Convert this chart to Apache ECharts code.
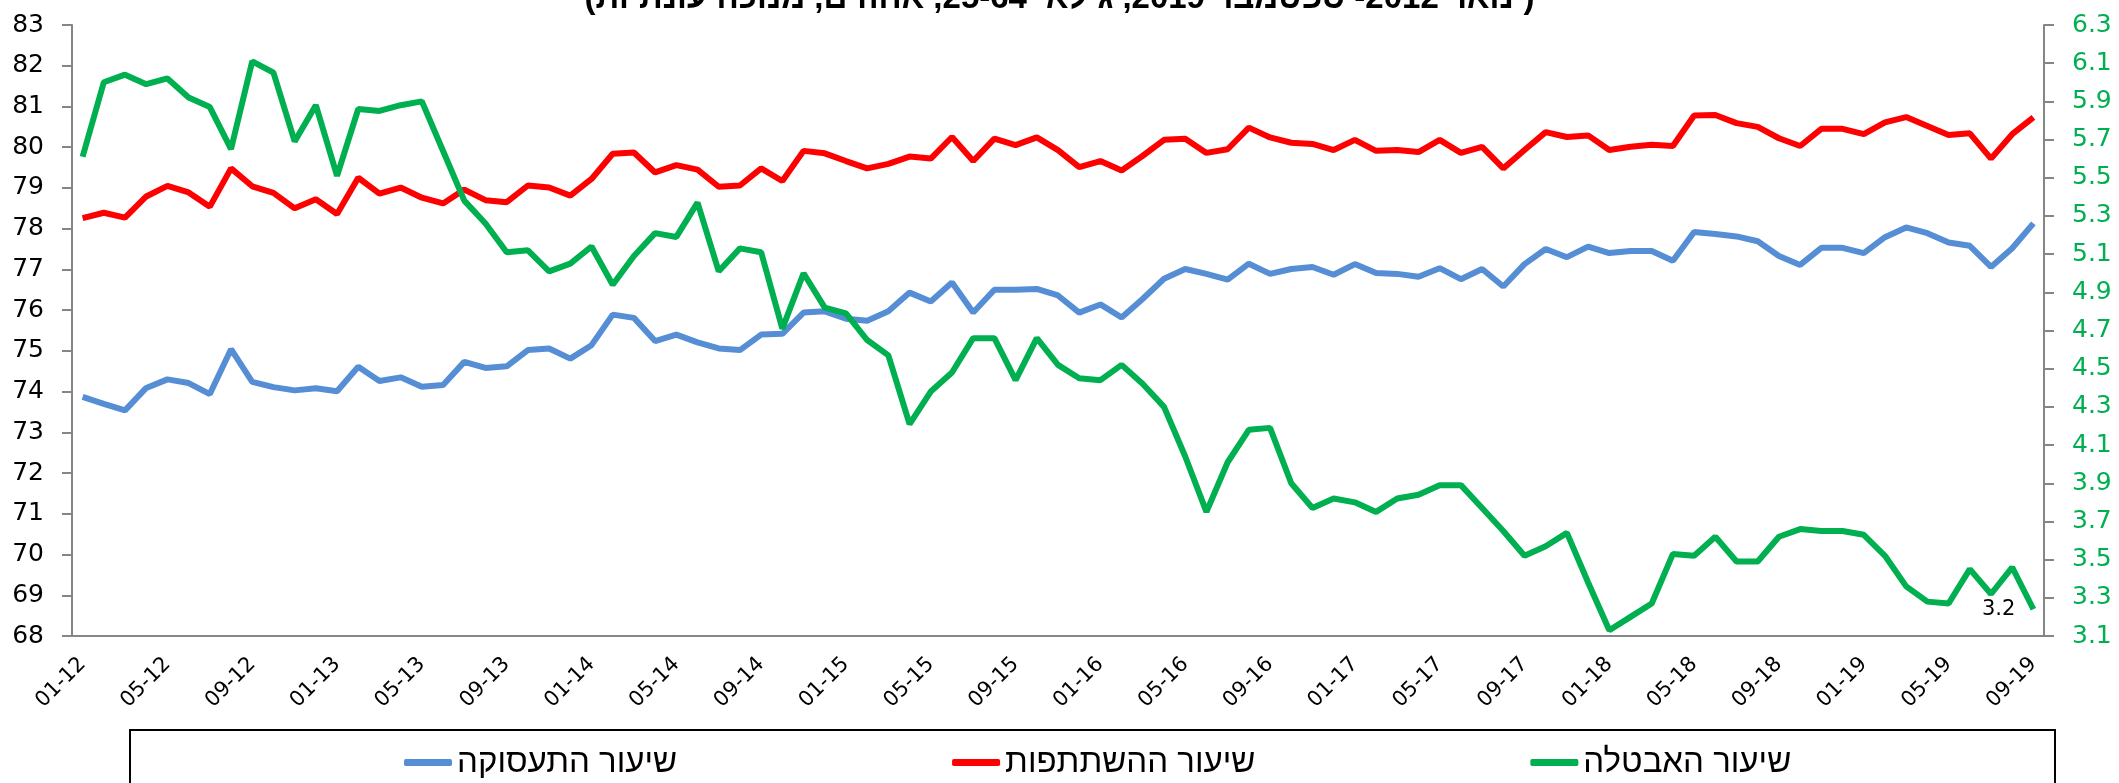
<!DOCTYPE html>
<html>
<head>
    <meta charset="utf-8">
    <title>שיעורי תעסוקה, השתתפות ואבטלה</title>
    <script src="https://cdn.jsdelivr.net/npm/echarts@6/dist/echarts.min.js"></script>
    <style>
        html, body { margin: 0; padding: 0; background: #fff; }
    </style>
</head>
<body>
    <div id="chart" style="width: 2119px;height:783px;"></div>

    <script>
        // חודשים 01-12 עד 09-19
        const months = [
            '01-12','02-12','03-12','04-12','05-12','06-12','07-12','08-12','09-12','10-12','11-12','12-12',
            '01-13','02-13','03-13','04-13','05-13','06-13','07-13','08-13','09-13','10-13','11-13','12-13',
            '01-14','02-14','03-14','04-14','05-14','06-14','07-14','08-14','09-14','10-14','11-14','12-14',
            '01-15','02-15','03-15','04-15','05-15','06-15','07-15','08-15','09-15','10-15','11-15','12-15',
            '01-16','02-16','03-16','04-16','05-16','06-16','07-16','08-16','09-16','10-16','11-16','12-16',
            '01-17','02-17','03-17','04-17','05-17','06-17','07-17','08-17','09-17','10-17','11-17','12-17',
            '01-18','02-18','03-18','04-18','05-18','06-18','07-18','08-18','09-18','10-18','11-18','12-18',
            '01-19','02-19','03-19','04-19','05-19','06-19','07-19','08-19','09-19'
        ];

        // שיעור התעסוקה (ציר שמאלי)
        const employment = [
            73.87, 73.70, 73.54, 74.09, 74.30, 74.21, 73.94, 75.04, 74.24, 74.11, 74.03, 74.08, 74.01, 74.61, 74.26, 74.35, 74.12, 74.16, 74.73,
            74.58, 74.62, 75.02, 75.06, 74.81, 75.14, 75.89, 75.81, 75.24, 75.40, 75.21, 75.06, 75.02, 75.40, 75.42, 75.94, 75.97, 75.79, 75.74,
            75.97, 76.43, 76.21, 76.68, 75.94, 76.50, 76.50, 76.52, 76.36, 75.94, 76.14, 75.82, 76.28, 76.77, 77.01, 76.89, 76.75, 77.14, 76.89, 77.01,
            77.06, 76.87, 77.13, 76.91, 76.89, 76.82, 77.03, 76.76, 77.01, 76.58, 77.13, 77.50, 77.30, 77.56, 77.40, 77.45, 77.45, 77.21, 77.92,
            77.87, 77.81, 77.69, 77.33, 77.11, 77.53, 77.53, 77.40, 77.79, 78.03, 77.89, 77.66, 77.58, 77.06, 77.52, 78.13
        ];

        // שיעור ההשתתפות (ציר שמאלי)
        const participation = [
            78.26, 78.39, 78.27, 78.79, 79.05, 78.89, 78.54, 79.48, 79.04, 78.88, 78.50, 78.72, 78.36, 79.25, 78.86, 79.01, 78.76, 78.62, 78.96,
            78.70, 78.65, 79.06, 79.01, 78.81, 79.22, 79.84, 79.87, 79.38, 79.56, 79.45, 79.03, 79.06, 79.48, 79.17, 79.91, 79.85, 79.66, 79.48,
            79.59, 79.77, 79.72, 80.25, 79.66, 80.21, 80.05, 80.24, 79.93, 79.51, 79.66, 79.43, 79.79, 80.18, 80.21, 79.86, 79.95, 80.48, 80.24, 80.11,
            80.08, 79.93, 80.18, 79.91, 79.93, 79.88, 80.18, 79.86, 80.01, 79.48, 79.93, 80.37, 80.25, 80.29, 79.93, 80.01, 80.06, 80.03, 80.78,
            80.79, 80.59, 80.50, 80.22, 80.03, 80.45, 80.45, 80.32, 80.61, 80.74, 80.52, 80.30, 80.34, 79.72, 80.32, 80.73
        ];

        // שיעור האבטלה (ציר ימני)
        const unemployment = [
            5.61, 6.00, 6.04, 5.99, 6.02, 5.92, 5.87, 5.65, 6.11, 6.05, 5.69, 5.88, 5.51, 5.86, 5.85, 5.88, 5.90, 5.64, 5.38,
            5.26, 5.11, 5.12, 5.01, 5.05, 5.14, 4.94, 5.09, 5.21, 5.19, 5.37, 5.01, 5.13, 5.11, 4.71, 5.00, 4.82, 4.79, 4.65,
            4.57, 4.21, 4.38, 4.48, 4.66, 4.66, 4.44, 4.66, 4.52, 4.45, 4.44, 4.52, 4.42, 4.30, 4.04, 3.75, 4.01, 4.18, 4.19, 3.90,
            3.77, 3.82, 3.80, 3.75, 3.82, 3.84, 3.89, 3.89, 3.77, 3.65, 3.52, 3.57, 3.64, 3.38, 3.13, 3.20, 3.27, 3.53, 3.52,
            3.62, 3.49, 3.49, 3.62, 3.66, 3.65, 3.65, 3.63, 3.52, 3.36, 3.28, 3.27, 3.45, 3.32, 3.46, 3.24
        ];

        const seriesNames = ['שיעור התעסוקה', 'שיעור ההשתתפות', 'שיעור האבטלה'];
        const colors = ['#558ed5', '#ff0000', '#00b050'];
        const subtitle = '(ינואר 2012- ספטמבר 2019, גילאי 25-64, אחוזים, מנוכה עונתיות)';

        const chartDom = document.getElementById('chart');
        const myChart = echarts.init(chartDom);

        // רק הנקודה האחרונה של האבטלה מקבלת תווית
        const unempData = unemployment.map(function (v, i) {
            if (i === unemployment.length - 1) {
                return { value: v, label: { show: true } };
            }
            return v;
        });

        const axisGrey = '#868686';

        const option = {
            animation: false,
            title: {
                text: '\u202B' + subtitle + '\u202C',
                left: 'center',
                top: -23,
                textStyle: {
                    fontFamily: 'Liberation Sans',
                    fontWeight: 'bold',
                    fontSize: 33,
                    color: '#000'
                }
            },
            grid: {
                left: 72,
                right: 75,
                top: 25,
                bottom: 147
            },
            legend: {
                data: seriesNames,
                left: 399,
                top: 741,
                itemWidth: 48,
                itemHeight: 7,
                itemGap: 275,
                icon: 'roundRect',
                textStyle: {
                    fontFamily: 'Liberation Sans',
                    fontSize: 33,
                    color: '#000'
                }
            },
            graphic: [{
                type: 'rect',
                shape: { x: 130, y: 730, width: 1925, height: 80 },
                style: { fill: 'none', stroke: '#000', lineWidth: 2 },
                silent: true
            }],
            xAxis: {
                type: 'category',
                data: months,
                boundaryGap: true,
                axisLine: { lineStyle: { color: axisGrey, width: 2 } },
                axisTick: {
                    interval: 3,
                    length: 8,
                    lineStyle: { color: axisGrey, width: 2 }
                },
                axisLabel: {
                    interval: 3,
                    rotate: 45,
                    margin: 25,
                    fontFamily: 'DejaVu Sans',
                    fontSize: 21,
                    color: '#000'
                },
                splitLine: { show: false }
            },
            yAxis: [{
                type: 'value',
                min: 68,
                max: 83,
                interval: 1,
                axisLine: { show: true, lineStyle: { color: axisGrey, width: 2 } },
                axisTick: { show: true, length: 10, lineStyle: { color: axisGrey, width: 2 } },
                axisLabel: {
                    margin: 28,
                    fontFamily: 'DejaVu Sans',
                    fontSize: 25,
                    color: '#000'
                },
                splitLine: { show: false }
            }, {
                type: 'value',
                position: 'right',
                min: 3.1,
                max: 6.3,
                interval: 0.2,
                axisLine: { show: true, lineStyle: { color: axisGrey, width: 2 } },
                axisTick: { show: true, length: 10, lineStyle: { color: axisGrey, width: 2 } },
                axisLabel: {
                    margin: 28,
                    fontFamily: 'DejaVu Sans',
                    fontSize: 25,
                    color: '#00b050',
                    formatter: function (v) { return v.toFixed(1); }
                },
                splitLine: { show: false }
            }],
            series: [{
                name: seriesNames[0],
                type: 'line',
                data: employment,
                yAxisIndex: 0,
                showSymbol: false,
                color: colors[0],
                lineStyle: { width: 6, color: colors[0] }
            }, {
                name: seriesNames[1],
                type: 'line',
                data: participation,
                yAxisIndex: 0,
                showSymbol: false,
                color: colors[1],
                lineStyle: { width: 6, color: colors[1] }
            }, {
                name: seriesNames[2],
                type: 'line',
                data: unempData,
                yAxisIndex: 1,
                symbol: 'circle',
                symbolSize: 0,
                showSymbol: true,
                color: colors[2],
                lineStyle: { width: 6, color: colors[2] },
                label: {
                    show: false,
                    position: 'left',
                    distance: 18,
                    fontFamily: 'DejaVu Sans',
                    fontSize: 21,
                    color: '#000',
                    formatter: function (p) { return p.value.toFixed(1); }
                }
            }]
        };

        option && myChart.setOption(option);

        window.addEventListener('resize', function () {
            myChart.resize();
        });
    </script>
</body>
</html>
